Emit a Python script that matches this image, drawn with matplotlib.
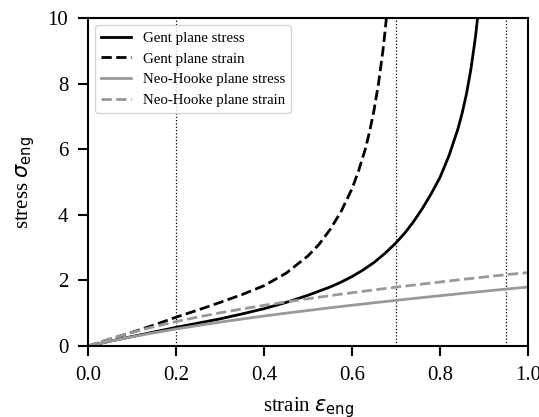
import matplotlib
matplotlib.use("Agg")
import matplotlib.pyplot as plt

plt.rcParams['font.family'] = ['Liberation Serif', 'DejaVu Serif']
plt.rcParams['mathtext.fontset'] = 'dejavusans'

# Gent plane stress
gent_stress_x = [0.0, 0.05, 0.1, 0.15, 0.2, 0.25, 0.3, 0.35, 0.4, 0.45, 0.5, 0.55, 0.575,
                 0.6, 0.625, 0.65, 0.675, 0.7, 0.72, 0.74, 0.76, 0.78, 0.8, 0.82, 0.84,
                 0.85, 0.86, 0.87, 0.88, 0.89]
gent_stress_y = [0.0, 0.15, 0.29, 0.43, 0.57, 0.70, 0.83, 0.98, 1.14, 1.33, 1.55, 1.80, 1.95,
                 2.12, 2.32, 2.55, 2.83, 3.15, 3.45, 3.80, 4.20, 4.65, 5.15, 5.80, 6.60,
                 7.10, 7.70, 8.45, 9.40, 10.60]

# Gent plane strain
gent_strain_x = [0.0, 0.05, 0.1, 0.15, 0.2, 0.25, 0.3, 0.35, 0.4, 0.45, 0.5, 0.525, 0.55,
                 0.575, 0.6, 0.615, 0.63, 0.64, 0.65, 0.66, 0.67, 0.675, 0.68]
gent_strain_y = [0.0, 0.21, 0.42, 0.64, 0.88, 1.10, 1.33, 1.57, 1.84, 2.22, 2.75, 3.10, 3.55,
                 4.10, 4.80, 5.35, 6.00, 6.55, 7.20, 8.00, 9.00, 9.60, 10.30]

# Neo-Hooke
nh_x = [0.0, 0.05, 0.1, 0.15, 0.2, 0.25, 0.3, 0.35, 0.4, 0.45, 0.5, 0.55, 0.6, 0.65,
        0.7, 0.75, 0.8, 0.85, 0.9, 0.95, 1.0]
nh_stress_y = [0.0, 0.147, 0.282, 0.406, 0.521, 0.628, 0.730, 0.825, 0.917, 1.004, 1.087,
               1.168, 1.246, 1.321, 1.395, 1.466, 1.536, 1.605, 1.672, 1.738, 1.80]
nh_strain_y = [0.0, 0.223, 0.418, 0.591, 0.746, 0.886, 1.014, 1.132, 1.243, 1.346, 1.444,
               1.538, 1.627, 1.713, 1.796, 1.876, 1.954, 2.031, 2.105, 2.178, 2.24]

marker_strains = [0.2, 0.7, 0.95]

fig = plt.figure(figsize=(5.39, 4.17), dpi=100)
ax = fig.add_axes([0.163, 0.170, 0.817, 0.787])

for xv in marker_strains:
    ax.axvline(xv, color='black', linestyle=':', linewidth=0.9)

grey = '#999999'
ax.plot(gent_stress_x, gent_stress_y, color='black', lw=2, label='Gent plane stress')
ax.plot(gent_strain_x, gent_strain_y, color='black', lw=2, ls='--', label='Gent plane strain')
ax.plot(nh_x, nh_stress_y, color=grey, lw=2, label='Neo-Hooke plane stress')
ax.plot(nh_x, nh_strain_y, color=grey, lw=2, ls='--', label='Neo-Hooke plane strain')

ax.set_xlim(0, 1)
ax.set_ylim(0, 10)
ax.set_xticks([0.0, 0.2, 0.4, 0.6, 0.8, 1.0])
ax.set_yticks([0, 2, 4, 6, 8, 10])
ax.tick_params(axis='both', which='major', direction='out', length=7, width=1.5,
               labelsize=15, pad=7)
for s in ax.spines.values():
    s.set_linewidth(1.5)

ax.set_xlabel(r'strain $\varepsilon_{\rm eng}$', fontsize=15, labelpad=8)
ax.set_ylabel(r'stress $\sigma_{\rm eng}$', fontsize=15, labelpad=8)

ax.legend(loc='upper left', fontsize=10.7, frameon=True)

fig.savefig('out.png', dpi=100)
